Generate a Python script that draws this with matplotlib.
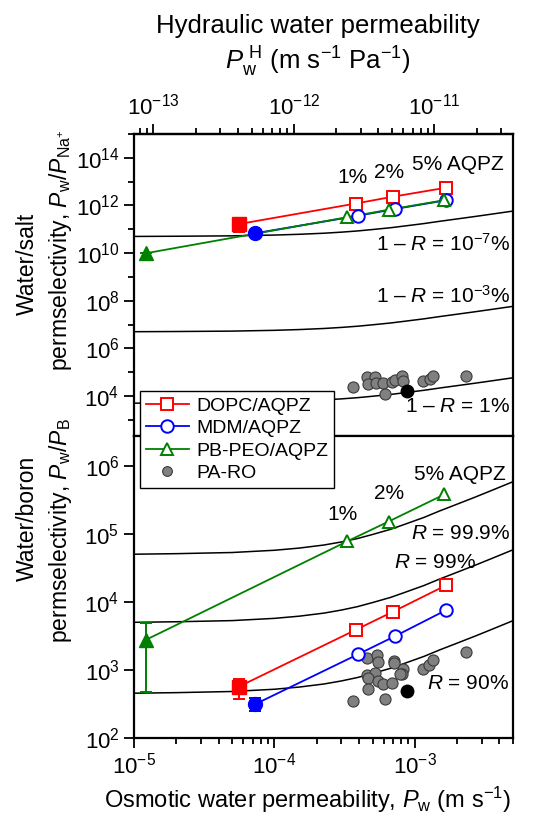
import numpy as np
import matplotlib
matplotlib.use('Agg')
import matplotlib.pyplot as plt
from matplotlib.lines import Line2D
from matplotlib.ticker import LogLocator, NullFormatter, FixedLocator

plt.rcParams['font.family'] = ['Liberation Sans', 'DejaVu Sans']
plt.rcParams['mathtext.fontset'] = 'custom'
plt.rcParams['mathtext.rm'] = 'Liberation Sans'
plt.rcParams['mathtext.it'] = 'Liberation Sans:italic'
plt.rcParams['mathtext.bf'] = 'Liberation Sans:bold'
plt.rcParams['axes.unicode_minus'] = True

# ---------------- data ----------------
hydraulic_factor = 7.27e-9   # P_w^H = P_w * factor

series_names = ['DOPC/AQPZ', 'MDM/AQPZ', 'PB-PEO/AQPZ']
series_colors = ['#ff0000', '#0000ff', '#008000']
series_markers = ['s', 'o', '^']

# first value: pure polymer membrane (filled), then 1%, 2%, 5% AQPZ (open)
dopc_pw = [5.6e-5, 3.78e-4, 7.0e-4, 1.68e-3]
mdm_pw = [7.3e-5, 3.95e-4, 7.2e-4, 1.68e-3]
pbpeo_pw = [1.21e-5, 3.3e-4, 6.5e-4, 1.62e-3]

dopc_salt = [1.66e11, 1.2e12, 2.34e12, 5.6e12]
mdm_salt = [6.8e10, 3.7e11, 7.1e11, 1.66e12]
pbpeo_salt = [9.8e9, 3.2e11, 6.6e11, 1.66e12]

dopc_boron = [570, 3860, 7180, 17600]
mdm_boron = [314, 1700, 3120, 7600]
pbpeo_boron = [2750, 77400, 151000, 377000]

# error bar bounds (low, high) of the filled points
dopc_salt_bounds = (7.5e10, 1.66e11)
pbpeo_salt_bounds = (5.5e9, 9.8e9)
dopc_boron_bounds = (380, 731)
mdm_boron_bounds = (248, 385)
pbpeo_boron_bounds = (468, 4840)

# PA-RO commercial membranes
paro_salt_pw = [3.64e-4, 4.53e-4, 5.19e-4, 4.66e-4, 5.33e-4, 5.94e-4, 6.82e-4, 7.21e-4,
                8.04e-4, 8.26e-4, 6.11e-4, 1.146e-3, 1.28e-3, 1.35e-3, 2.33e-3]
paro_salt = [2.37e4, 6.2e4, 6.2e4, 3.3e4, 3.5e4, 3.5e4, 3.8e4, 4.8e4,
             7.2e4, 4.2e4, 1.26e4, 4.2e4, 5.2e4, 6.6e4, 6.6e4]
paro_boron_pw = [3.64e-4, 4.53e-4, 5.40e-4, 5.48e-4, 7.14e-4, 8.26e-4, 8.04e-4, 1.146e-3,
                 1.265e-3, 1.35e-3, 2.33e-3, 4.53e-4, 5.19e-4, 4.66e-4, 5.48e-4, 5.94e-4,
                 6.82e-4, 4.66e-4, 6.11e-4, 7.10e-4, 7.78e-4]
paro_boron = [351, 1520, 1660, 1285, 1343, 1047, 865, 1023,
              1172, 1403, 1837, 836, 895, 748, 690, 617,
              638, 521, 372, 1253, 865]
paro_ref_pw = 8.73e-4
paro_ref_salt = 1.6e4
paro_ref_boron = 492

# rejection iso-lines: shape (decades of rise vs P_w)
curve_pw = [1e-5, 2e-5, 5e-5, 1e-4, 1.5e-4, 2.25e-4, 3e-4, 3.9e-4, 5e-4, 6.7e-4,
            8.5e-4, 1.16e-3, 1.5e-3, 2e-3, 2.7e-3, 3.46e-3, 5e-3]
curve_rise = [0.0, 0.008, 0.025, 0.058, 0.09, 0.135, 0.18, 0.23, 0.29, 0.365,
              0.44, 0.54, 0.635, 0.735, 0.84, 0.93, 1.065]
salt_curve_levels = [5e10, 5e6, 5e3]
salt_curve_labels = [r'1 – $R$ = 10$^{-7}$%', r'1 – $R$ = 10$^{-3}$%', r'1 – $R$ = 1%']
boron_curve_levels = [5e4, 5e3, 455]
boron_curve_labels = [r'$R$ = 99.9%', r'$R$ = 99%', r'$R$ = 90%']

aqpz_labels = ['1%', '2%', '5% AQPZ']

# ---------------- figure ----------------
W, H = 538, 821
fig = plt.figure(figsize=(W / 100, H / 100), dpi=100)

def fx(px):
    return px / W

def fy(py):
    return 1 - py / H

L, R = 134, 513
ax_s = fig.add_axes([fx(L), fy(436), fx(R) - fx(L), fy(134) - fy(436)])
ax_b = fig.add_axes([fx(L), fy(738), fx(R) - fx(L), fy(436) - fy(738)])

fs_tick = 16
xlim = (1e-5, 5e-3)
for ax in (ax_s, ax_b):
    ax.set_xscale('log')
    ax.set_yscale('log')
    ax.set_xlim(*xlim)
    for sp in ax.spines.values():
        sp.set_linewidth(1.6)
    ax.tick_params(which='both', direction='out', width=1.3, labelsize=fs_tick)
    ax.tick_params(which='major', length=7)
    ax.tick_params(which='minor', length=4)

ax_s.set_ylim(10 ** 2.32, 1e15)
ax_b.set_ylim(1e2, 10 ** 6.435)

ax_s.tick_params(bottom=False, labelbottom=False, which='both')
ax_s.set_yticks([10.0 ** k for k in range(4, 15, 2)],
                [r'$10^{%d}$' % k for k in range(4, 15, 2)])
ax_s.yaxis.set_minor_locator(FixedLocator([10.0 ** k for k in range(3, 16, 2)]))
ax_s.yaxis.set_minor_formatter(NullFormatter())

ax_b.set_yticks([10.0 ** k for k in range(2, 7)], [r'$10^{%d}$' % k for k in range(2, 7)])
ax_b.yaxis.set_minor_locator(FixedLocator([]))
ax_b.xaxis.set_minor_locator(LogLocator(base=10, subs=np.arange(2, 10)))
ax_b.xaxis.set_minor_formatter(NullFormatter())
ax_b.set_xticks([1e-5, 1e-4, 1e-3], [r'$10^{-5}$', r'$10^{-4}$', r'$10^{-3}$'])

# top axis: hydraulic permeability
sec = ax_s.secondary_xaxis('top', functions=(lambda x: x * hydraulic_factor,
                                             lambda x: x / hydraulic_factor))
sec.set_xticks([1e-13, 1e-12, 1e-11], [r'$10^{-13}$', r'$10^{-12}$', r'$10^{-11}$'])
sec.xaxis.set_minor_locator(LogLocator(base=10, subs=np.arange(2, 10)))
sec.xaxis.set_minor_formatter(NullFormatter())
sec.tick_params(which='both', direction='out', width=1.3, labelsize=fs_tick)
sec.tick_params(which='major', length=7)
sec.tick_params(which='minor', length=4)
sec.spines['top'].set_linewidth(1.6)

# iso-rejection curves
for lvl in salt_curve_levels:
    ax_s.plot(curve_pw, [lvl * 10 ** r for r in curve_rise], color='black', lw=1.1, zorder=1)
for lvl in boron_curve_levels:
    ax_b.plot(curve_pw, [lvl * 10 ** r for r in curve_rise], color='black', lw=1.1, zorder=1)

# PA-RO
for ax, xs, ys, yref in ((ax_s, paro_salt_pw, paro_salt, paro_ref_salt),
                         (ax_b, paro_boron_pw, paro_boron, paro_ref_boron)):
    ax.plot(xs, ys, 'o', ms=8, mfc='#808080', mec='#3a3a3a', mew=0.8, zorder=2, ls='none')
    ax.plot([paro_ref_pw], [yref], 'o', ms=9, mfc='black', mec='black', zorder=3, ls='none')

# AQPZ series
pw_all = [dopc_pw, mdm_pw, pbpeo_pw]
salt_all = [dopc_salt, mdm_salt, pbpeo_salt]
boron_all = [dopc_boron, mdm_boron, pbpeo_boron]
salt_bounds = [dopc_salt_bounds, None, pbpeo_salt_bounds]
boron_bounds = [dopc_boron_bounds, mdm_boron_bounds, pbpeo_boron_bounds]

for i in range(3):
    c, m = series_colors[i], series_markers[i]
    for ax, ys, bnd in ((ax_s, salt_all[i], salt_bounds[i]), (ax_b, boron_all[i], boron_bounds[i])):
        ax.plot(pw_all[i], ys, '-', color=c, lw=1.3, zorder=4)
        ax.plot(pw_all[i][1:], ys[1:], m, ms=9, mfc='white', mec=c, mew=1.4, ls='none', zorder=5)
        if bnd is not None:
            ax.errorbar([pw_all[i][0]], [ys[0]],
                        yerr=[[ys[0] - bnd[0]], [bnd[1] - ys[0]]],
                        fmt='none', ecolor=c, elinewidth=1.4, capsize=4, capthick=1.4, zorder=5)
        ax.plot([pw_all[i][0]], [ys[0]], m, ms=10, mfc=c, mec=c, ls='none', zorder=6)

# annotations
fs_ann = 15
ax_s.text(3.57e-4, 1.5e13, aqpz_labels[0], ha='center', va='center', fontsize=fs_ann)
ax_s.text(6.6e-4, 2.4e13, aqpz_labels[1], ha='center', va='center', fontsize=fs_ann)
ax_s.text(2.02e-3, 5.1e13, aqpz_labels[2], ha='center', va='center', fontsize=fs_ann)
for lbl, yv in zip(salt_curve_labels, [2.4e10, 1.6e8, 3.7e3]):
    ax_s.text(4.8e-3, yv, lbl, ha='right', va='center', fontsize=fs_ann)

ax_b.text(3.04e-4, 1.94e5, aqpz_labels[0], ha='center', va='center', fontsize=fs_ann)
ax_b.text(6.56e-4, 3.85e5, aqpz_labels[1], ha='center', va='center', fontsize=fs_ann)
ax_b.text(2.09e-3, 7.3e5, aqpz_labels[2], ha='center', va='center', fontsize=fs_ann)
ax_b.text(4.75e-3, 1.02e5, boron_curve_labels[0], ha='right', va='center', fontsize=fs_ann)
ax_b.text(1.39e-3, 3.8e4, boron_curve_labels[1], ha='center', va='center', fontsize=fs_ann)
ax_b.text(2.4e-3, 630, boron_curve_labels[2], ha='center', va='center', fontsize=fs_ann)

# legend
handles = [Line2D([], [], color=series_colors[i], marker=series_markers[i], ms=9,
                  mfc='white', mec=series_colors[i], mew=1.4, lw=1.3) for i in range(3)]
handles.append(Line2D([], [], ls='none', marker='o', ms=7, mfc='#808080', mec='#3a3a3a', mew=0.8))
leg = fig.legend(handles, series_names + ['PA-RO'], loc='lower left',
                 bbox_to_anchor=(fx(140), fy(488)), bbox_transform=fig.transFigure,
                 frameon=True, fancybox=False, edgecolor='black', framealpha=1,
                 fontsize=14, handlelength=2.2, handletextpad=0.4, borderpad=0.3,
                 labelspacing=0.25, borderaxespad=0)
leg.get_frame().set_linewidth(1.0)

# axis labels
fs_lab = 16.5
fs_xlab = 18.5
fig.text(fx(318), fy(26), 'Hydraulic water permeability', ha='center', va='center', fontsize=fs_xlab)
fig.text(fx(318), fy(62), r'$P_\mathrm{w}^{\ \mathrm{H}}$ (m s$^{-1}$ Pa$^{-1}$)', ha='center',
         va='center', fontsize=fs_xlab)
fig.text(fx(104), fy(800), r'Osmotic water permeability, $P_\mathrm{w}$ (m s$^{-1}$)',
         ha='left', va='center', fontsize=17)
fig.text(fx(27), fy(264), 'Water/salt', rotation=90, ha='center', va='center', fontsize=fs_lab)
fig.text(fx(60), fy(250), r'permselectivity, $P_\mathrm{w}/P_{\mathrm{Na}^{+}}$', rotation=90,
         ha='center', va='center', fontsize=fs_lab)
fig.text(fx(27), fy(518), 'Water/boron', rotation=90, ha='center', va='center', fontsize=fs_lab)
fig.text(fx(60), fy(531), r'permselectivity, $P_\mathrm{w}/P_\mathrm{B}$', rotation=90,
         ha='center', va='center', fontsize=fs_lab)

fig.savefig('out.png', dpi=100)
